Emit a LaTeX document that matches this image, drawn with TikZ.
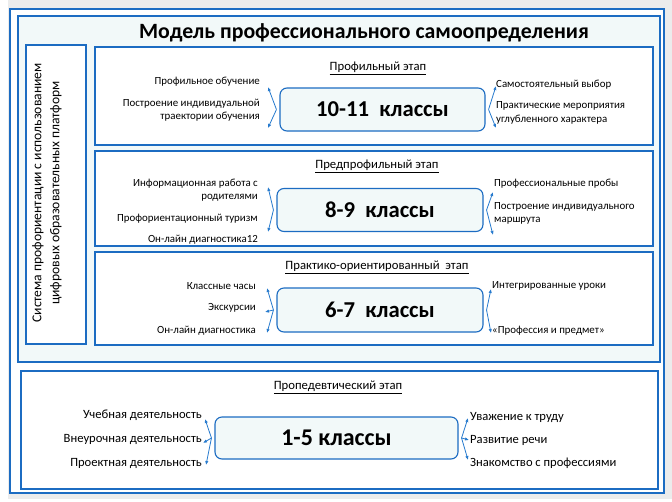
\documentclass[tikz,border=0pt]{standalone}
\usepackage{fontspec}
\setmainfont{Carlito}
\usepackage{xcolor}
\usetikzlibrary{positioning,arrows.meta}
\definecolor{frameblue}{RGB}{28,108,194}
\definecolor{arrowblue}{RGB}{38,122,206}
\definecolor{paleblue}{RGB}{242,249,249}
\definecolor{pagegray}{RGB}{236,236,236}
\tikzset{
  stagebox/.style={draw=frameblue, line width=1.9pt, fill=white, inner sep=0pt},
  classbox/.style={draw=frameblue, line width=1.1pt, fill=paleblue, rounded corners=7pt,
    inner sep=0pt, font=\fontsize{22.7}{26}\selectfont\bfseries},
  lbl/.style={inner sep=0pt, font=\fontsize{10.9}{13.5}\selectfont},
  lblL/.style={lbl, anchor=east, align=right},
  lblR/.style={lbl, anchor=west, align=left},
  lblbig/.style={font=\fontsize{12.6}{15}\selectfont},
  stagetitle/.style={inner sep=0pt, font=\fontsize{12.7}{15}\selectfont},
  brancharr/.style={draw=arrowblue, line width=0.8pt, -{Latex[length=4pt,width=3.4pt]}}
}
% arrows from a class box side out to its labels
\newcommand{\branchL}[2]{
  \foreach \e in {#2} {\draw[brancharr] (#1.west) ++(-3,0) -- (\e);}
}
\newcommand{\branchR}[2]{
  \foreach \e in {#2} {\draw[brancharr] (#1.east) ++(3,0) -- (\e);}
}
\begin{document}
\begin{tikzpicture}[x=1pt, y=-1pt]
\useasboundingbox (0,0) rectangle (672,501);
\fill[white] (0,0) rectangle (672,501);
\fill[pagegray] (8,0) rectangle (672,499);
% frames
\draw[frameblue, line width=2pt, fill=white] (10,9) rectangle (664,493);
\draw[frameblue, line width=1.8pt, fill=paleblue] (18,16) rectangle (660,362);
\node[stagebox, minimum width=637pt, minimum height=118pt] (st4) at (339.5,430) {};
\node[font=\fontsize{21.8}{25}\selectfont\bfseries, inner sep=0pt] (title) at (364,33)
  {Модель профессионального самоопределения};
% left column
\node[draw=frameblue, line width=1.1pt, fill=white, minimum width=60pt, minimum height=299pt,
  inner sep=0pt] (sys) at (56,194.5) {};
\node[rotate=90, align=center, inner sep=0pt, font=\fontsize{13.6}{18}\selectfont] (systext)
  at (47,193) {Система профориентации с использованием\\цифровых образовательных платформ};
% stage boxes
\foreach \n/\c/\h in {1/96/98,2/198.5/95,3/298.5/93} {
  \node[stagebox, minimum width=558pt, minimum height=\h pt] (st\n) at (374,\c) {};
}
\node[stagetitle] (t1) at (378,68) {\underline{Профильный этап}};
\node[stagetitle] (t2) at (377,166) {\underline{Предпрофильный этап}};
\node[stagetitle] (t3) at (377,267) {\underline{Практико-ориентированный\ \ этап}};
\node[stagetitle] (t4) at (338,387) {\underline{Пропедевтический этап}};
% class boxes
\node[classbox, minimum width=205pt, minimum height=43pt] (k1) at (382.5,109.5) {10-11\ \ классы};
\node[classbox, minimum width=206pt, minimum height=43pt] (k2) at (380,210) {8-9\ \ классы};
\node[classbox, minimum width=206pt, minimum height=44pt] (k3) at (380,310) {6-7\ \ классы};
\node[classbox, minimum width=243pt, minimum height=42pt, font=\fontsize{24}{27}\selectfont\bfseries]
  (k4) at (336.5,438) {1-5 классы};
% 10-11
\node[lblL] (l11) at (260,82) {Профильное обучение};
\node[lblL] (l12) at (260,110) {Построение индивидуальной\\траектории обучения};
\node[lblR] (r11) at (496,85) {Самостоятельный выбор};
\node[lblR] (r12) at (496,113) {Практические мероприятия\\углубленного характера};
\coordinate (a11) at (268,87);  \coordinate (a12) at (268,128);
\coordinate (b11) at (496,86);  \coordinate (b12) at (496,128);
\branchL{k1}{a11,a12}
\branchR{k1}{b11,b12}
% 8-9
\node[lblL] (l21) at (258,190) {Информационная работа с\\родителями};
\node[lblL] (l22) at (258,219) {Профориентационный туризм};
\node[lblL] (l23) at (258,240) {Он-лайн диагностика12};
\node[lblR] (r21) at (494,184) {Профессиональные пробы};
\node[lblR] (r22) at (494,213.5) {Построение индивидуального\\маршрута};
\coordinate (a21) at (268,187);  \coordinate (a22) at (268,232);
\coordinate (b21) at (493,192);  \coordinate (b22) at (493,235);
\branchL{k2}{a21,a22}
\branchR{k2}{b21,b22}
% 6-7
\node[lblL] (l31) at (256,286) {Классные часы};
\node[lblL] (l32) at (256,308) {Экскурсии};
\node[lblL] (l33) at (256,331) {Он-лайн диагностика};
\node[lblR] (r31) at (492,286) {Интегрированные уроки};
\node[lblR] (r32) at (492,331) {«Профессия и предмет»};
\coordinate (a31) at (267,288);  \coordinate (a32) at (265,312);  \coordinate (a33) at (267,333);
\coordinate (b31) at (491,289);  \coordinate (b32) at (491,333);
\branchL{k3}{a31,a32,a33}
\branchR{k3}{b31,b32}
% 1-5
\node[lblL, lblbig] (l41) at (202,415) {Учебная деятельность};
\node[lblL, lblbig] (l42) at (202,439) {Внеурочная деятельность};
\node[lblL, lblbig] (l43) at (202,463) {Проектная деятельность};
\node[lblR, lblbig] (r41) at (470,417) {Уважение к труду};
\node[lblR, lblbig] (r42) at (470,440) {Развитие речи};
\node[lblR, lblbig] (r43) at (470,463) {Знакомство с профессиями};
\coordinate (a41) at (205,419);  \coordinate (a42) at (203,443);  \coordinate (a43) at (206,465);
\coordinate (b41) at (468,418);  \coordinate (b42) at (469,440);  \coordinate (b43) at (468,460);
\branchL{k4}{a41,a42,a43}
\branchR{k4}{b41,b42,b43}
\end{tikzpicture}
\end{document}
